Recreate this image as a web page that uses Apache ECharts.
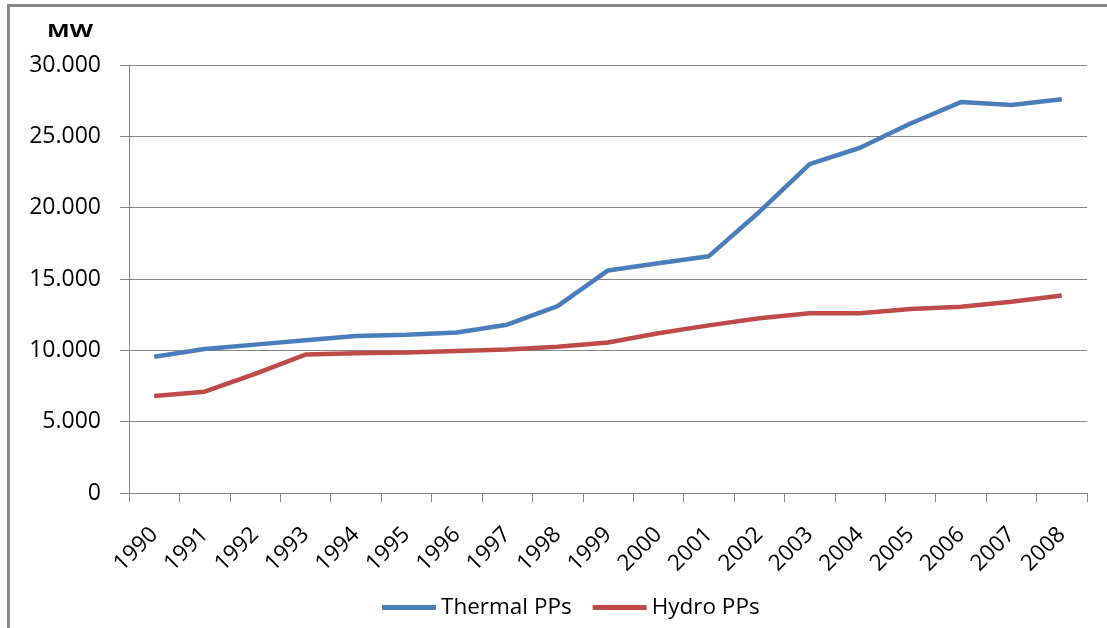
<!DOCTYPE html>
<html>
<head>
<meta charset="utf-8">
<script src="https://cdn.jsdelivr.net/npm/echarts@6/dist/echarts.min.js"></script>
<style>
html,body{margin:0;padding:0;background:#fff;}
#chart{width:1107px;height:628px;}
</style>
</head>
<body>
<div id="chart"></div>
<script>
const years = ['1990','1991','1992','1993','1994','1995','1996','1997','1998','1999','2000','2001','2002','2003','2004','2005','2006','2007','2008'];
const thermal = [9550,10100,10400,10700,11000,11100,11250,11800,13100,15600,16100,16600,19700,23050,24200,25900,27400,27200,27600];
const hydro = [6800,7100,8350,9700,9800,9850,9950,10050,10250,10550,11200,11750,12250,12600,12600,12900,13050,13400,13850];
const seriesNames = ['Thermal PPs','Hydro PPs'];
const yTicks = {min:0, max:30000, interval:5000};
const unitLabel = 'MW';

const FONT = 'Open Sans';
const GRAY = '#868686';
const chart = echarts.init(document.getElementById('chart'), null, {renderer:'canvas'});
function fmt(v){
  if (v === 0) return '0';
  return String(v).replace(/\B(?=(\d{3})+(?!\d))/g, '.');
}
chart.setOption({
  animation:false,
  backgroundColor:'#fff',
  grid:{left:129, right:20, top:65, bottom:135, containLabel:false},
  graphic:[
    {type:'polyline', shape:{points:[[8.5,628],[8.5,5.5],[1107,5.5]]}, style:{stroke:'#878787', lineWidth:3, fill:null}},
    {type:'text', x:47, y:31.5, scaleX:1.3, style:{text:unitLabel, font:'bold 18.5px "'+FONT+'"', fill:'#000', verticalAlign:'middle', align:'left'}}
  ],
  legend:{
    data:seriesNames,
    left:377, top:591,
    icon:'rect', itemWidth:54, itemHeight:5, itemGap:21,
    textStyle:{fontFamily:FONT, fontSize:22.5, color:'#000'}
  },
  xAxis:{
    type:'category', data:years, boundaryGap:true,
    axisLine:{show:true, lineStyle:{color:GRAY, width:1}},
    axisTick:{show:true, length:9, lineStyle:{color:GRAY}, interval:0},
    axisLabel:{rotate:45, interval:0, margin:38, fontFamily:FONT, fontSize:22.5, color:'#000'},
    splitLine:{show:false}
  },
  yAxis:{
    type:'value', min:yTicks.min, max:yTicks.max, interval:yTicks.interval,
    axisLine:{show:true, lineStyle:{color:GRAY, width:1}},
    axisTick:{show:true, length:9, lineStyle:{color:GRAY}},
    axisLabel:{margin:28, fontFamily:FONT, fontSize:23, color:'#000', formatter:fmt},
    splitLine:{show:true, lineStyle:{color:GRAY, width:1}}
  },
  series:[
    {name:seriesNames[0], type:'line', data:thermal, symbol:'none', lineStyle:{width:4.5, color:'#4A7EBB'}, itemStyle:{color:'#4A7EBB'}},
    {name:seriesNames[1], type:'line', data:hydro, symbol:'none', lineStyle:{width:4.5, color:'#BE4B48'}, itemStyle:{color:'#BE4B48'}}
  ]
});
</script>
</body>
</html>
